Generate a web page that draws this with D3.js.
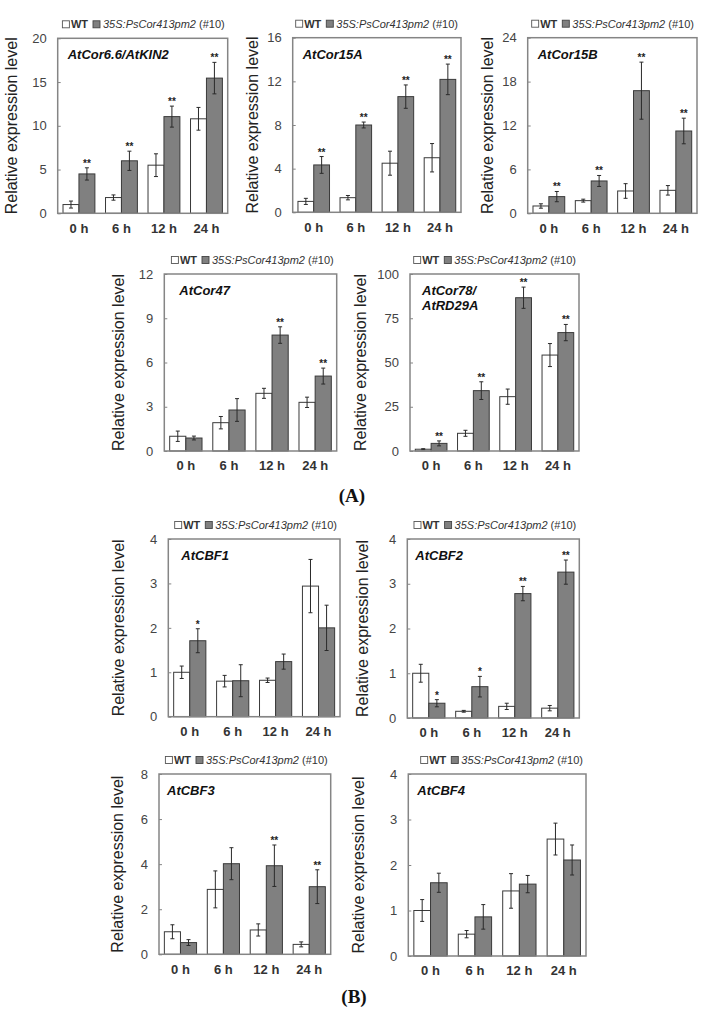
<!DOCTYPE html>
<html><head><meta charset="utf-8">
<script src="https://cdn.jsdelivr.net/npm/d3@7"></script>
<style>body{margin:0;background:#fff}svg{display:block}text{font-family:"Liberation Sans",Arial,sans-serif}</style>
</head><body>
<script>
// ---------- DATA ----------
const categories = ["0 h", "6 h", "12 h", "24 h"];
const seriesNames = ["WT", "35S:PsCor413pm2"];
const legendSuffix = " (#10)";
const geneNames = [["AtCor6.6/AtKIN2"], ["AtCor15A"], ["AtCor15B"], ["AtCor47"], ["AtCor78/", "AtRD29A"], ["AtCBF1"], ["AtCBF2"], ["AtCBF3"], ["AtCBF4"]];
const yTickSets = [[0,5,10,15,20],[0,4,8,12,16],[0,6,12,18,24],[0,3,6,9,12],[0,25,50,75,100],[0,1,2,3,4],[0,1,2,3,4],[0,2,4,6,8],[0,1,2,3,4]];

const kin2WT = [1.0, 1.8, 5.5, 10.8];      const kin2WTErr = [0.4, 0.3, 1.3, 1.3];
const kin2TG = [4.5, 6.0, 11.05, 15.45];   const kin2TGErr = [0.7, 1.1, 1.2, 1.8];
const kin2Sig = ["**", "**", "**", "**"];

const cor15aWT = [1.0, 1.34, 4.5, 5.0];    const cor15aWTErr = [0.28, 0.2, 1.1, 1.3];
const cor15aTG = [4.34, 8.0, 10.6, 12.18]; const cor15aTGErr = [0.77, 0.27, 1.07, 1.4];
const cor15aSig = ["**", "**", "**", "**"];

const cor15bWT = [1.0, 1.73, 3.05, 3.14];   const cor15bWTErr = [0.3, 0.2, 1.0, 0.65];
const cor15bTG = [2.28, 4.42, 16.76, 11.25]; const cor15bTGErr = [0.7, 0.75, 3.9, 1.75];
const cor15bSig = ["**", "**", "**", "**"];

const cor47WT = [1.0, 1.92, 3.91, 3.3];    const cor47WTErr = [0.35, 0.42, 0.34, 0.35];
const cor47TG = [0.88, 2.78, 7.86, 5.08];  const cor47TGErr = [0.13, 0.77, 0.56, 0.54];
const cor47Sig = ["", "", "**", "**"];

const rd29aWT = [1.0, 10.0, 30.7, 54.2];   const rd29aWTErr = [0.3, 1.7, 4.3, 6.5];
const rd29aTG = [4.3, 34.1, 86.6, 66.9];   const rd29aTGErr = [1.4, 5.0, 6.0, 4.6];
const rd29aSig = ["**", "**", "**", "**"];

const cbf1WT = [1.0, 0.8, 0.82, 2.94];     const cbf1WTErr = [0.14, 0.13, 0.05, 0.6];
const cbf1TG = [1.71, 0.81, 1.24, 2.0];    const cbf1TGErr = [0.27, 0.36, 0.17, 0.51];
const cbf1Sig = ["*", "", "", ""];

const cbf2WT = [1.0, 0.15, 0.26, 0.22];    const cbf2WTErr = [0.2, 0.02, 0.07, 0.06];
const cbf2TG = [0.33, 0.7, 2.78, 3.26];    const cbf2TGErr = [0.08, 0.23, 0.16, 0.27];
const cbf2Sig = ["*", "*", "**", "**"];

const cbf3WT = [1.0, 2.88, 1.08, 0.44];    const cbf3WTErr = [0.31, 0.82, 0.27, 0.11];
const cbf3TG = [0.52, 4.02, 3.93, 3.0];    const cbf3TGErr = [0.13, 0.71, 0.92, 0.75];
const cbf3Sig = ["", "", "**", "**"];

const cbf4WT = [1.0, 0.48, 1.43, 2.57];    const cbf4WTErr = [0.24, 0.08, 0.38, 0.35];
const cbf4TG = [1.61, 0.86, 1.58, 2.11];   const cbf4TGErr = [0.21, 0.27, 0.19, 0.33];
const cbf4Sig = ["", "", "", ""];

const panelData = [
  [kin2WT, kin2WTErr, kin2TG, kin2TGErr, kin2Sig],
  [cor15aWT, cor15aWTErr, cor15aTG, cor15aTGErr, cor15aSig],
  [cor15bWT, cor15bWTErr, cor15bTG, cor15bTGErr, cor15bSig],
  [cor47WT, cor47WTErr, cor47TG, cor47TGErr, cor47Sig],
  [rd29aWT, rd29aWTErr, rd29aTG, rd29aTGErr, rd29aSig],
  [cbf1WT, cbf1WTErr, cbf1TG, cbf1TGErr, cbf1Sig],
  [cbf2WT, cbf2WTErr, cbf2TG, cbf2TGErr, cbf2Sig],
  [cbf3WT, cbf3WTErr, cbf3TG, cbf3TGErr, cbf3Sig],
  [cbf4WT, cbf4WTErr, cbf4TG, cbf4TGErr, cbf4Sig]
];
const sectionLabels = ["(A)", "(B)"];

// ---------- LAYOUT ----------
const layout = [
  {L:57.7, R:227.7, T:38.3, B:213.3, tdx:10, ydx:-46},
  {L:292.7, R:461, T:37.7, B:212.3, tdx:10, ydx:-40},
  {L:527.7, R:697, T:37.7, B:213.3, tdx:10, ydx:-40},
  {L:164.3, R:336.7, T:274, B:451, tdx:15, ydx:-46},
  {L:410, R:579, T:274, B:451, tdx:12, ydx:-50},
  {L:168.3, R:340, T:539, B:716.7, tdx:13, ydx:-50},
  {L:407.3, R:579.3, T:539, B:718, tdx:8, ydx:-45},
  {L:159, R:330.7, T:774, B:954.3, tdx:8, ydx:-42},
  {L:408.3, R:586, T:774, B:956, tdx:9, ydx:-50}
];
const sectionPos = [{x:352, y:502}, {x:354, y:1003}];
const colors = {wt:"#ffffff", tg:"#808080", barStroke:"#3a3a3a", frame:"#858585", err:"#2a2a2a", text:"#333"};

const svg = d3.select("body").append("svg").attr("width", 709).attr("height", 1012);

layout.forEach((P, i) => {
  const [wt, wtE, tg, tgE, sig] = panelData[i];
  const ticks = yTickSets[i];
  const g = svg.append("g");
  const x = d3.scaleBand().domain(categories).range([P.L, P.R]).paddingInner(0.25).paddingOuter(0.125);
  const xs = d3.scaleBand().domain([0, 1]).range([0, x.bandwidth()]);
  const y = d3.scaleLinear().domain([0, d3.max(ticks)]).range([P.B, P.T]);

  // y axis labels + small inward ticks
  const ya = d3.axisLeft(y).tickValues(ticks).tickSizeInner(-3).tickSizeOuter(0).tickPadding(11).tickFormat(d3.format("d"));
  const yg = g.append("g").attr("transform", `translate(${P.L},0)`).call(ya);
  yg.select(".domain").remove();
  yg.selectAll(".tick line").attr("stroke", colors.frame).attr("stroke-width", 1);
  yg.selectAll("text").attr("font-size", 13).attr("fill", "#444").attr("font-family", '"Liberation Sans",Arial,sans-serif');

  // x axis labels
  const xa = d3.axisBottom(x).tickSize(0).tickPadding(10);
  const xg = g.append("g").attr("transform", `translate(0,${P.B})`).call(xa);
  xg.select(".domain").remove();
  xg.selectAll("text").attr("font-size", 13).attr("font-weight", "bold").attr("fill", colors.text).attr("font-family", '"Liberation Sans",Arial,sans-serif');

  // bars
  const rows = categories.map((c, k) => [
    {c, s:0, v:wt[k], e:wtE[k], sig:""},
    {c, s:1, v:tg[k], e:tgE[k], sig:sig[k]}
  ]).flat();
  g.selectAll("rect.bar").data(rows).join("rect").attr("class", "bar")
    .attr("x", d => x(d.c) + xs(d.s)).attr("width", xs.bandwidth())
    .attr("y", d => y(d.v)).attr("height", d => y(0) - y(d.v))
    .attr("fill", d => d.s ? colors.tg : colors.wt)
    .attr("stroke", colors.barStroke).attr("stroke-width", 1);
  // error bars
  const cx = d => x(d.c) + xs(d.s) + xs.bandwidth() / 2;
  g.selectAll("path.err").data(rows).join("path").attr("class", "err")
    .attr("d", d => {
      const t = y(d.v + d.e), b = y(Math.max(0, d.v - d.e)), c = cx(d);
      return `M${c},${t}V${b}M${c-2},${t}H${c+2}M${c-2},${b}H${c+2}`;
    })
    .attr("stroke", colors.err).attr("stroke-width", 1).attr("fill", "none");
  g.selectAll("text.sig").data(rows.filter(d => d.sig)).join("text").attr("class", "sig")
    .attr("x", cx).attr("y", d => y(d.v + d.e) - 1)
    .attr("text-anchor", "middle").attr("font-size", 10).attr("font-weight", "bold").attr("fill", "#222")
    .text(d => d.sig);

  // frame
  g.append("rect").attr("x", P.L).attr("y", P.T).attr("width", P.R - P.L).attr("height", P.B - P.T)
    .attr("fill", "none").attr("stroke", colors.frame).attr("stroke-width", 1.5);

  // gene title
  geneNames[i].forEach((t, j) => {
    g.append("text").attr("x", P.L + P.tdx).attr("y", P.T + 21 + j * 15)
      .attr("font-size", 13).attr("font-weight", "bold").attr("font-style", "italic").attr("fill", "#111").text(t);
  });

  // y title
  g.append("text").attr("transform", `translate(${P.L + P.ydx},${(P.T + P.B) / 2}) rotate(-90)`)
    .attr("text-anchor", "middle").attr("dominant-baseline", "central")
    .attr("font-size", 16).attr("fill", "#222").text("Relative expression level");

  // legend
  const lg = g.append("g").attr("transform", `translate(0,${P.T - 14})`);
  let cxp = 0;
  const items = lg.append("g");
  items.append("rect").attr("x", cxp).attr("y", -3.5).attr("width", 7).attr("height", 7).attr("fill", "#fff").attr("stroke", "#555").attr("stroke-width", 0.9);
  cxp += 8.5;
  const t1 = items.append("text").attr("x", cxp).attr("y", 4).attr("font-size", 11).attr("font-weight", "bold").attr("fill", colors.text).text(seriesNames[0]);
  cxp += t1.node().getComputedTextLength() + 5;
  items.append("rect").attr("x", cxp).attr("y", -3.5).attr("width", 7).attr("height", 7).attr("fill", colors.tg).attr("stroke", "#444").attr("stroke-width", 0.9);
  cxp += 10;
  const t2 = items.append("text").attr("x", cxp).attr("y", 4).attr("font-size", 11).attr("fill", colors.text);
  t2.append("tspan").attr("font-style", "italic").text(seriesNames[1]);
  t2.append("tspan").text(legendSuffix);
  cxp += t2.node().getComputedTextLength();
  items.attr("transform", `translate(${P.R - 3 - cxp},0)`);
});

// section labels
sectionLabels.forEach((s, i) => {
  svg.append("text").attr("x", sectionPos[i].x).attr("y", sectionPos[i].y).attr("text-anchor", "middle")
    .style("font-family", '"Liberation Serif","Times New Roman",serif').attr("font-size", 19).attr("font-weight", "bold").attr("fill", "#111")
    .text(s);
});
</script>
</body></html>
